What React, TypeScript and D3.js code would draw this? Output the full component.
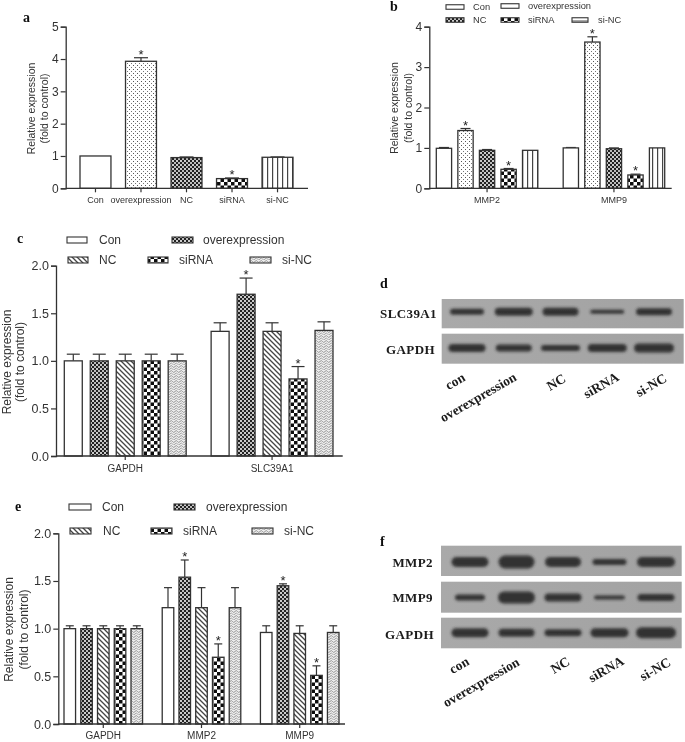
import React, { useRef, useEffect } from "react";
import * as d3 from "d3";

const seriesA = ["Con", "overexpression", "NC", "siRNA", "si-NC"];

// panel a
const valuesA = [1.0, 3.93, 0.95, 0.3, 0.96];
const errorsA = [0.0, 0.11, 0.02, 0.02, 0.01];
const starsA = [false, true, false, true, false];

// panel b
const groupsB = ["MMP2", "MMP9"];
const valuesB = [
  [0.99, 1.43, 0.94, 0.47, 0.94],
  [1.0, 3.62, 0.98, 0.33, 1.0],
];
const errorsB = [
  [0.02, 0.05, 0.02, 0.02, 0.0],
  [0.01, 0.13, 0.02, 0.02, 0.0],
];
const starsB = [
  [false, true, false, true, false],
  [false, true, false, true, false],
];

// panel c
const groupsC = ["GAPDH", "SLC39A1"];
const valuesC = [
  [1.0, 1.0, 1.0, 1.0, 1.0],
  [1.31, 1.7, 1.31, 0.81, 1.32],
];
const errorsC = [
  [0.07, 0.07, 0.07, 0.07, 0.07],
  [0.09, 0.17, 0.09, 0.13, 0.09],
];
const starsC = [
  [false, false, false, false, false],
  [false, true, false, true, false],
];

// panel e
const groupsE = ["GAPDH", "MMP2", "MMP9"];
const valuesE = [
  [1.0, 1.0, 1.0, 1.0, 1.0],
  [1.22, 1.54, 1.22, 0.7, 1.22],
  [0.96, 1.45, 0.95, 0.51, 0.96],
];
const errorsE = [
  [0.03, 0.03, 0.03, 0.03, 0.03],
  [0.21, 0.18, 0.21, 0.14, 0.21],
  [0.07, 0.02, 0.08, 0.1, 0.07],
];
const starsE = [
  [false, false, false, false, false],
  [false, true, false, true, false],
  [false, true, false, true, false],
];

// blots: band length and thickness per lane
const lanes = ["con", "overexpression", "NC", "siRNA", "si-NC"];
const blotD = [
  { name: "SLC39A1", len: [36, 40, 38, 36, 38], thick: [6, 8, 8, 4, 7] },
  { name: "GAPDH", len: [39, 38, 41, 41, 42], thick: [8, 7, 6, 8, 9] },
];
const blotF = [
  { name: "MMP2", len: [39, 38, 38, 36, 40], thick: [10, 13, 10, 6, 10] },
  { name: "MMP9", len: [32, 39, 39, 33, 39], thick: [6, 12, 8, 4, 7] },
  { name: "GAPDH", len: [39, 38, 39, 40, 42], thick: [9, 8, 7, 9, 11] },
];

const AXIS = "#333";
const SANS = "'Liberation Sans', Arial, sans-serif";
const SERIF = "'Liberation Serif', 'Times New Roman', serif";

const addPatterns = (defs: any) => {
  const pat = (id: string, w: number, h: number, bg: string) =>
    defs.append("pattern")
      .attr("id", id)
      .attr("patternUnits", "userSpaceOnUse")
      .attr("width", w)
      .attr("height", h)
      .call((p: any) => p.append("rect").attr("width", w).attr("height", h).attr("fill", bg));

  const dots = pat("dots", 4, 4, "#fff");
  dots.append("rect").attr("x", 1).attr("y", 1).attr("width", 1).attr("height", 1).attr("fill", "#555");
  dots.append("rect").attr("x", 3).attr("y", 3).attr("width", 1).attr("height", 1).attr("fill", "#777");

  const dense = pat("dense", 4, 4, "#222");
  dense.append("rect").attr("width", 2).attr("height", 2).attr("fill", "#ccc");
  dense.append("rect").attr("x", 2).attr("y", 2).attr("width", 2).attr("height", 2).attr("fill", "#bbb");

  const check = pat("check", 7, 7, "#fff");
  check.append("rect").attr("width", 3.5).attr("height", 3.5).attr("fill", "#111");
  check.append("rect").attr("x", 3.5).attr("y", 3.5).attr("width", 3.5).attr("height", 3.5).attr("fill", "#111");

  const vert = pat("vert", 5, 5, "#fff");
  vert.append("rect").attr("x", 2).attr("width", 1.2).attr("height", 5).attr("fill", "#444");

  const diag = pat("diag", 5, 5, "#fff");
  diag.append("path").attr("d", "M-1,-1L6,6M-1,4L1,6M4,-1L6,1").attr("stroke", "#444").attr("stroke-width", 1.3);

  const wavy = pat("wavy", 5, 5, "#eee");
  wavy.append("path").attr("d", "M0,1.5L1.25,0.5L2.5,1.5L3.75,2.5L5,1.5").attr("fill", "none").attr("stroke", "#888").attr("stroke-width", 0.9);
  wavy.append("path").attr("d", "M0,4L1.25,3L2.5,4L3.75,5L5,4").attr("fill", "none").attr("stroke", "#999").attr("stroke-width", 0.9);

  const hline = pat("hline", 5, 6, "#fff");
  hline.append("rect").attr("y", 2.5).attr("width", 5).attr("height", 1).attr("fill", "#555");
};

const drawBarPanel = (svg: any, cfg: any) => {
  const g = svg.append("g");
  const y = d3.scaleLinear().domain(cfg.domain).range([cfg.bottom, cfg.top]);
  const x0 = d3.scaleBand<string>().domain(cfg.groups).range(cfg.barRange).paddingInner(cfg.groupGap);
  const x1 = d3.scaleBand<string>().domain(seriesA).range([0, x0.bandwidth()]).paddingInner(cfg.barGap);

  cfg.groups.forEach((group: string, gi: number) => {
    seriesA.forEach((s, i) => {
      const bx = (x0(group) as number) + (x1(s) as number);
      const w = x1.bandwidth();
      const v = cfg.values[gi][i];
      const e = cfg.errors[gi][i];
      const cx = bx + w / 2;
      if (e > 0) {
        g.append("line").attr("x1", cx).attr("x2", cx).attr("y1", y(v)).attr("y2", y(v + e))
          .attr("stroke", AXIS).attr("stroke-width", 1.2);
        g.append("line").attr("x1", cx - cfg.cap).attr("x2", cx + cfg.cap).attr("y1", y(v + e)).attr("y2", y(v + e))
          .attr("stroke", AXIS).attr("stroke-width", 1.2);
      }
      g.append("rect")
        .attr("x", bx).attr("y", y(v))
        .attr("width", w).attr("height", y(0) - y(v))
        .attr("fill", cfg.fills[i])
        .attr("stroke", AXIS).attr("stroke-width", 1.3);
      if (cfg.stars[gi][i]) {
        g.append("text").attr("x", cx).attr("y", y(v + e) + 1)
          .attr("text-anchor", "middle")
          .attr("font-family", SANS).attr("font-size", 13).attr("fill", "#222")
          .text("*");
      }
    });
  });

  // y axis
  const yAxis = d3.axisLeft(y).tickValues(cfg.ticks).tickFormat(d3.format(cfg.fmt) as any).tickSize(5).tickPadding(2);
  const ya = g.append("g").attr("transform", `translate(${cfg.left},0)`).call(yAxis);
  ya.select(".domain").attr("stroke", AXIS).attr("stroke-width", 1.3);
  ya.selectAll(".tick line").attr("stroke", AXIS).attr("stroke-width", 1.2);
  ya.selectAll("text").attr("font-family", SANS).attr("font-size", cfg.tickFont).attr("fill", "#333");

  // x axis line with group ticks
  g.append("line").attr("x1", cfg.left).attr("x2", cfg.right).attr("y1", y(0)).attr("y2", y(0))
    .attr("stroke", AXIS).attr("stroke-width", 1.3);

  const labels = cfg.groups.length === 1 ? seriesA : cfg.groups;
  labels.forEach((l: string) => {
    const cx = cfg.groups.length === 1
      ? (x0(cfg.groups[0]) as number) + (x1(l) as number) + x1.bandwidth() / 2
      : (x0(l) as number) + x0.bandwidth() / 2;
    g.append("line").attr("x1", cx).attr("x2", cx).attr("y1", y(0)).attr("y2", y(0) + 4)
      .attr("stroke", AXIS).attr("stroke-width", 1.2);
    g.append("text").attr("x", cx).attr("y", y(0) + cfg.catOffset)
      .attr("text-anchor", "middle")
      .attr("font-family", SANS).attr("font-size", cfg.catFont).attr("fill", "#333")
      .text(l);
  });

  // y title
  const title = g.append("text")
    .attr("transform", `translate(${cfg.titleX},${cfg.titleY}) rotate(-90)`)
    .attr("text-anchor", "middle")
    .attr("font-family", SANS).attr("font-size", cfg.titleFont).attr("fill", "#333");
  title.append("tspan").attr("x", 0).attr("dy", 0).text("Relative expression");
  title.append("tspan").attr("x", 0).attr("dy", cfg.titleGap).text("(fold to control)");

  // legend
  (cfg.legend || []).forEach((it: any) => {
    g.append("rect").attr("x", it.sx).attr("y", it.y - cfg.legendH / 2)
      .attr("width", it.sw).attr("height", cfg.legendH)
      .attr("fill", it.fill).attr("stroke", AXIS).attr("stroke-width", 1.1);
    g.append("text").attr("x", it.tx).attr("y", it.y).attr("dy", "0.35em")
      .attr("font-family", SANS).attr("font-size", cfg.legendFont).attr("fill", "#333")
      .text(it.label);
  });
};

const drawBlot = (svg: any, cfg: any) => {
  const g = svg.append("g");
  const x = d3.scalePoint<string>().domain(lanes).range(cfg.laneRange);
  cfg.rows.forEach((row: any, ri: number) => {
    const [t, b] = cfg.rowY[ri];
    g.append("rect").attr("x", cfg.x0).attr("y", t).attr("width", cfg.x1 - cfg.x0).attr("height", b - t)
      .attr("fill", "url(#blotBg)");
    lanes.forEach((lane, i) => {
      const len = row.len[i];
      const th = row.thick[i];
      g.append("rect")
        .attr("x", (x(lane) as number) - len / 2 + 1)
        .attr("y", cfg.bandY[ri] - th / 2)
        .attr("width", len - 2).attr("height", th)
        .attr("rx", th / 2)
        .attr("fill", "#262626")
        .attr("opacity", 0.9)
        .attr("filter", "url(#bandBlur)");
    });
    g.append("text").attr("x", cfg.nameX[ri]).attr("y", cfg.nameY[ri]).attr("dy", "0.35em")
      .attr("text-anchor", "end")
      .attr("font-family", SERIF).attr("font-weight", "bold").attr("font-size", 13)
      .attr("letter-spacing", 0.4).attr("fill", "#1a1a1a")
      .text(row.name);
  });
  lanes.forEach((lane, i) => {
    const [lx, ly] = cfg.labelPos[i];
    g.append("text").attr("transform", `translate(${lx},${ly}) rotate(-30)`)
      .attr("text-anchor", "middle").attr("dy", "0.35em")
      .attr("font-family", SERIF).attr("font-weight", "bold").attr("font-size", 13.5)
      .attr("fill", "#1a1a1a")
      .text(lane);
  });
};

export default function App() {
  const svgRef = useRef<SVGSVGElement>(null);

  useEffect(() => {
    const svg = d3.select(svgRef.current);
    svg.selectAll("*").remove();

    const defs = svg.append("defs");
    addPatterns(defs);
    defs.append("filter").attr("id", "soft").attr("x", "-2%").attr("y", "-2%").attr("width", "104%").attr("height", "104%")
      .append("feGaussianBlur").attr("stdDeviation", 0.45);
    defs.append("filter").attr("id", "bandBlur").attr("x", "-20%").attr("y", "-100%").attr("width", "140%").attr("height", "300%")
      .append("feGaussianBlur").attr("stdDeviation", 1.8);
    const bg = defs.append("linearGradient").attr("id", "blotBg").attr("x1", 0).attr("x2", 1).attr("y1", 0).attr("y2", 0);
    bg.append("stop").attr("offset", "0%").attr("stop-color", "#a9a9a9");
    bg.append("stop").attr("offset", "100%").attr("stop-color", "#a2a2a2");

    const root = svg.append("g").attr("filter", "url(#soft)");
    root.append("rect").attr("width", 685).attr("height", 742).attr("fill", "#fff");

    const fillsAB = ["#fff", "url(#dots)", "url(#dense)", "url(#check)", "url(#vert)"];
    const fillsCE = ["#fff", "url(#dense)", "url(#diag)", "url(#check)", "url(#wavy)"];

    drawBarPanel(root, {
      domain: [0, 5], top: 26.7, bottom: 188.3, left: 65.7, right: 308,
      groups: ["all"], barRange: [80, 293], groupGap: 0, barGap: 0.32,
      values: [valuesA], errors: [errorsA], stars: [starsA], fills: fillsAB,
      cap: 7, ticks: [0, 1, 2, 3, 4, 5], fmt: "d", tickFont: 12, catFont: 9, catOffset: 15,
      titleX: 35, titleY: 108.5, titleFont: 10.5, titleGap: 13,
    });
    drawBarPanel(root, {
      domain: [0, 4], top: 26.7, bottom: 188.3, left: 429.3, right: 671.7,
      groups: groupsB, barRange: [436.3, 664.7], groupGap: 0.2, barGap: 0.29,
      values: valuesB, errors: errorsB, stars: starsB, fills: fillsAB,
      cap: 5, ticks: [0, 1, 2, 3, 4], fmt: "d", tickFont: 12, catFont: 9, catOffset: 15,
      titleX: 398, titleY: 108, titleFont: 10.5, titleGap: 13.5,
      legendH: 4.5, legendFont: 9.3,
      legend: [
        { label: "Con", sx: 446, sw: 18, y: 7, tx: 473, fill: "#fff" },
        { label: "overexpression", sx: 501, sw: 18, y: 6, tx: 528, fill: "url(#hline)" },
        { label: "NC", sx: 446, sw: 18, y: 20, tx: 473, fill: "url(#dense)" },
        { label: "siRNA", sx: 501, sw: 18, y: 20, tx: 528, fill: "url(#check)" },
        { label: "si-NC", sx: 572, sw: 16, y: 20, tx: 598, fill: "url(#hline)" },
      ],
    });
    drawBarPanel(root, {
      domain: [0, 2], top: 265.7, bottom: 456, left: 56, right: 342.7,
      groups: groupsC, barRange: [64.3, 333], groupGap: 0.17, barGap: 0.308,
      values: valuesC, errors: errorsC, stars: starsC, fills: fillsCE,
      cap: 6.5, ticks: [0, 0.5, 1, 1.5, 2], fmt: ".1f", tickFont: 12.5, catFont: 10, catOffset: 16,
      titleX: 10.5, titleY: 362, titleFont: 12, titleGap: 13.5,
      legendH: 6, legendFont: 12,
      legend: [
        { label: "Con", sx: 67, sw: 20, y: 240, tx: 99, fill: "#fff" },
        { label: "overexpression", sx: 172, sw: 21, y: 240, tx: 203, fill: "url(#dense)" },
        { label: "NC", sx: 68, sw: 20, y: 260, tx: 99, fill: "url(#diag)" },
        { label: "siRNA", sx: 148, sw: 20, y: 260, tx: 179, fill: "url(#check)" },
        { label: "si-NC", sx: 250, sw: 21, y: 260, tx: 282, fill: "url(#wavy)" },
      ],
    });
    drawBarPanel(root, {
      domain: [0, 2], top: 533.3, bottom: 724, left: 58.3, right: 345,
      groups: groupsE, barRange: [64, 339], groupGap: 0.2, barGap: 0.31,
      values: valuesE, errors: errorsE, stars: starsE, fills: fillsCE,
      cap: 4, ticks: [0, 0.5, 1, 1.5, 2], fmt: ".1f", tickFont: 12.5, catFont: 10, catOffset: 15,
      titleX: 13, titleY: 629.5, titleFont: 12, titleGap: 14.5,
      legendH: 6, legendFont: 12,
      legend: [
        { label: "Con", sx: 69, sw: 22, y: 507, tx: 102, fill: "#fff" },
        { label: "overexpression", sx: 174, sw: 21, y: 507, tx: 206, fill: "url(#dense)" },
        { label: "NC", sx: 70, sw: 21, y: 531, tx: 103, fill: "url(#diag)" },
        { label: "siRNA", sx: 151, sw: 21, y: 531, tx: 183, fill: "url(#check)" },
        { label: "si-NC", sx: 252, sw: 21, y: 531, tx: 284, fill: "url(#wavy)" },
      ],
    });

    drawBlot(root, {
      x0: 441.7, x1: 683.7, laneRange: [467, 654],
      rows: blotD,
      rowY: [[299, 328.3], [333.7, 363.7]],
      bandY: [311.7, 348],
      nameX: [437, 435], nameY: [313, 349.5],
      labelPos: [[455, 381], [478, 397], [556, 382], [601, 385], [651, 385]],
    });
    drawBlot(root, {
      x0: 441, x1: 681.7, laneRange: [470, 656],
      rows: blotF,
      rowY: [[545.7, 576], [581.7, 612.7], [617.7, 648.3]],
      bandY: [562, 597.5, 632.7],
      nameX: [433, 433, 434], nameY: [562.5, 597.5, 634],
      labelPos: [[459, 665], [481, 682], [560, 665], [606, 669], [655, 669]],
    });

    // panel letters
    const letters = [
      ["a", 23, 22], ["b", 390, 11], ["c", 17, 243],
      ["d", 380, 288], ["e", 15, 511], ["f", 380, 546],
    ];
    letters.forEach(([t, lx, ly]) => {
      root.append("text").attr("x", lx as number).attr("y", ly as number)
        .attr("font-family", SERIF).attr("font-weight", "bold").attr("font-size", 14)
        .attr("fill", "#111")
        .text(t as string);
    });
  }, []);

  return (
    <svg
      ref={svgRef}
      width={685}
      height={742}
      style={{ position: "absolute", left: 0, top: 0, background: "#fff" }}
    />
  );
}
